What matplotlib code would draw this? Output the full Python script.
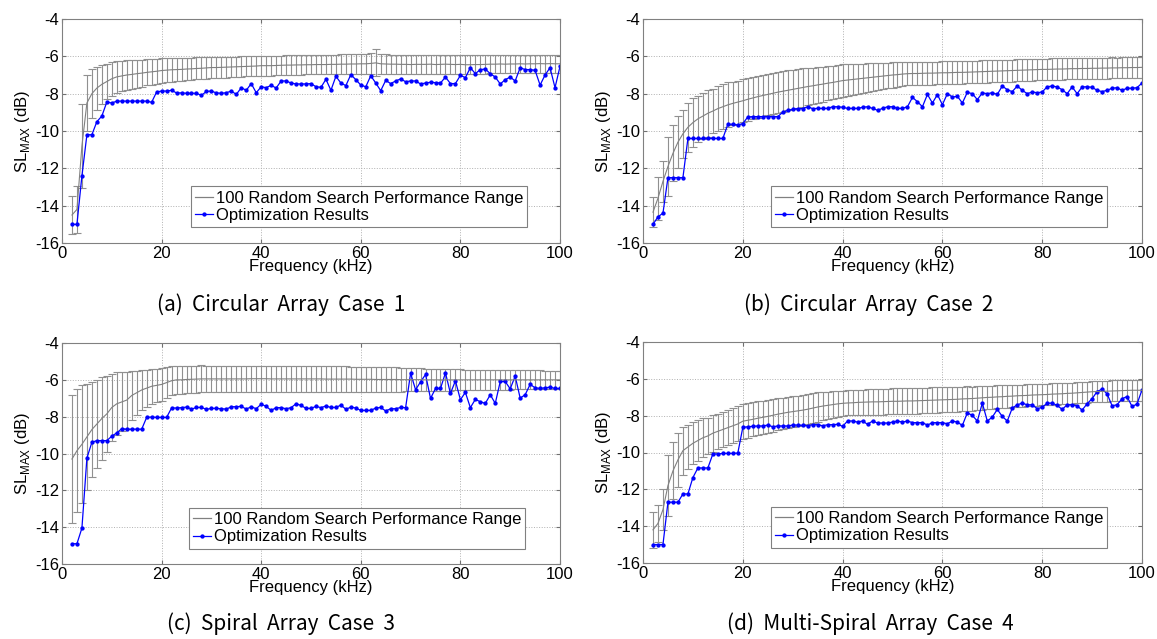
import numpy as np
import matplotlib
matplotlib.use("Agg")
import matplotlib.pyplot as plt
from matplotlib.lines import Line2D

plt.rcParams['font.family'] = ['Liberation Sans', 'DejaVu Sans']
plt.rcParams['axes.unicode_minus'] = False
plt.rcParams['mathtext.fontset'] = 'custom'
plt.rcParams['mathtext.rm'] = 'Liberation Sans'

# frequency samples, one every kHz from 2 to 100
freq_khz = np.arange(2, 101)

# ---- (a) Circular Array Case 1 ----
opt_a = [-15.0, -15.0, -12.4, -10.2, -10.2, -9.5, -9.2, -8.45, -8.5, -8.4,
         -8.4, -8.4, -8.4, -8.4, -8.4, -8.4, -8.46, -7.91, -7.86, -7.86,
         -7.82, -7.96, -7.96, -7.98, -7.98, -7.98, -8.09, -7.88, -7.86, -7.96,
         -7.98, -7.95, -7.86, -8.04, -7.68, -7.82, -7.46, -7.95, -7.63, -7.68,
         -7.55, -7.7, -7.32, -7.32, -7.43, -7.48, -7.48, -7.48, -7.46, -7.63,
         -7.66, -7.23, -7.82, -7.07, -7.43, -7.57, -6.98, -7.25, -7.54, -7.63,
         -7.04, -7.43, -7.84, -7.29, -7.46, -7.32, -7.21, -7.36, -7.32, -7.32,
         -7.48, -7.43, -7.39, -7.41, -7.43, -7.11, -7.46, -7.46, -7.02, -7.14,
         -6.61, -6.93, -6.71, -6.68, -6.93, -7.11, -7.48, -7.25, -7.11, -7.32,
         -6.61, -6.71, -6.71, -6.75, -7.54, -7.0, -6.61, -7.68, -6.54]
mean_a = [-14.5, -14.2, -10.8, -8.5, -8.0, -7.7, -7.5, -7.35, -7.2, -7.1,
          -7.05, -7.0, -6.97, -6.93, -6.9, -6.86, -6.83, -6.8, -6.76, -6.74,
          -6.72, -6.71, -6.7, -6.68, -6.67, -6.65, -6.64, -6.62, -6.6, -6.6,
          -6.59, -6.58, -6.57, -6.56, -6.55, -6.54, -6.53, -6.52, -6.5, -6.5,
          -6.5, -6.49, -6.48, -6.47, -6.47, -6.46, -6.46, -6.45, -6.45, -6.44,
          -6.44, -6.44, -6.43, -6.43, -6.42, -6.42, -6.41, -6.41, -6.4, -6.4,
          -6.38, -6.35, -6.4, -6.41, -6.42, -6.42, -6.43, -6.43, -6.44, -6.43,
          -6.43, -6.43, -6.42, -6.44, -6.43, -6.42, -6.43, -6.44, -6.43, -6.45,
          -6.45, -6.44, -6.44, -6.43, -6.42, -6.42, -6.41, -6.42, -6.41, -6.41,
          -6.4, -6.41, -6.4, -6.4, -6.39, -6.4, -6.39, -6.4, -6.4]
std_a = [1.0, 1.25, 2.25, 1.5, 1.3, 1.15, 1.05, 0.95, 0.9, 0.85,
         0.8, 0.78, 0.76, 0.74, 0.72, 0.7, 0.68, 0.67, 0.65, 0.64,
         0.63, 0.62, 0.61, 0.6, 0.6, 0.59, 0.58, 0.58, 0.57, 0.57,
         0.56, 0.56, 0.55, 0.55, 0.55, 0.54, 0.54, 0.54, 0.53, 0.53,
         0.53, 0.53, 0.52, 0.52, 0.52, 0.52, 0.52, 0.52, 0.52, 0.52,
         0.52, 0.52, 0.52, 0.52, 0.52, 0.52, 0.52, 0.52, 0.52, 0.52,
         0.55, 0.72, 0.53, 0.52, 0.51, 0.51, 0.51, 0.51, 0.51, 0.51,
         0.5, 0.5, 0.5, 0.5, 0.5, 0.5, 0.5, 0.5, 0.5, 0.5,
         0.5, 0.5, 0.49, 0.49, 0.49, 0.49, 0.49, 0.49, 0.49, 0.49,
         0.49, 0.48, 0.48, 0.48, 0.48, 0.48, 0.48, 0.48, 0.48]

# ---- (b) Circular Array Case 2 ----
opt_b = [-15.0, -14.6, -14.4, -12.5, -12.5, -12.5, -12.5, -10.4, -10.4, -10.4,
         -10.4, -10.4, -10.4, -10.4, -10.4, -9.64, -9.64, -9.68, -9.6, -9.25,
         -9.23, -9.23, -9.23, -9.23, -9.23, -9.23, -9.0, -8.9, -8.84, -8.8,
         -8.8, -8.7, -8.8, -8.79, -8.79, -8.79, -8.7, -8.7, -8.73, -8.79,
         -8.79, -8.79, -8.73, -8.7, -8.79, -8.89, -8.79, -8.7, -8.7, -8.79,
         -8.79, -8.7, -8.2, -8.43, -8.7, -8.04, -8.5, -8.05, -8.59, -8.0,
         -8.18, -8.14, -8.5, -7.93, -8.0, -8.32, -7.96, -8.0, -7.95, -8.04,
         -7.59, -7.79, -7.89, -7.59, -7.82, -8.0, -7.91, -7.95, -7.91, -7.63,
         -7.59, -7.64, -7.79, -8.0, -7.64, -8.0, -7.64, -7.63, -7.66, -7.82,
         -7.89, -7.82, -7.71, -7.68, -7.82, -7.71, -7.71, -7.68, -7.43]
mean_b = [-14.35, -13.6, -12.7, -11.9, -11.2, -10.6, -10.15, -9.8, -9.55, -9.35,
          -9.2, -9.05, -8.93, -8.8, -8.7, -8.6, -8.52, -8.45, -8.38, -8.3,
          -8.23, -8.16, -8.1, -8.04, -7.98, -7.92, -7.87, -7.82, -7.77, -7.72,
          -7.67, -7.62, -7.58, -7.53, -7.49, -7.44, -7.4, -7.35, -7.3, -7.27,
          -7.24, -7.21, -7.18, -7.15, -7.12, -7.09, -7.06, -7.03, -7.0, -6.98,
          -6.95, -6.93, -6.92, -6.92, -6.91, -6.9, -6.9, -6.89, -6.88, -6.88,
          -6.87, -6.86, -6.86, -6.85, -6.84, -6.83, -6.82, -6.81, -6.8, -6.79,
          -6.78, -6.77, -6.76, -6.75, -6.74, -6.73, -6.72, -6.71, -6.7, -6.7,
          -6.69, -6.68, -6.68, -6.67, -6.66, -6.66, -6.65, -6.65, -6.64, -6.64,
          -6.63, -6.63, -6.62, -6.62, -6.61, -6.61, -6.6, -6.6, -6.59]
std_b = [0.8, 1.15, 1.1, 1.6, 1.5, 1.4, 1.3, 1.3, 1.3, 1.25,
         1.25, 1.25, 1.2, 1.2, 1.2, 1.2, 1.15, 1.15, 1.15, 1.14,
         1.13, 1.13, 1.12, 1.12, 1.11, 1.1, 1.1, 1.08, 1.06, 1.04,
         1.02, 1.0, 0.98, 0.96, 0.94, 0.92, 0.9, 0.88, 0.87, 0.85,
         0.83, 0.81, 0.79, 0.77, 0.75, 0.73, 0.71, 0.69, 0.67, 0.65,
         0.63, 0.62, 0.62, 0.62, 0.62, 0.61, 0.61, 0.61, 0.61, 0.61,
         0.6, 0.6, 0.6, 0.6, 0.6, 0.6, 0.6, 0.6, 0.59, 0.59,
         0.59, 0.59, 0.59, 0.59, 0.58, 0.58, 0.58, 0.58, 0.58, 0.58,
         0.58, 0.57, 0.57, 0.57, 0.57, 0.57, 0.57, 0.56, 0.56, 0.56,
         0.56, 0.56, 0.56, 0.55, 0.55, 0.55, 0.55, 0.55, 0.55]

# ---- (c) Spiral Array Case 3 ----
opt_c = [-14.9, -14.9, -14.05, -10.25, -9.39, -9.3, -9.3, -9.3, -9.06, -8.88,
         -8.65, -8.68, -8.68, -8.68, -8.68, -8.04, -8.02, -8.04, -8.04, -8.04,
         -7.53, -7.53, -7.51, -7.48, -7.59, -7.5, -7.5, -7.6, -7.55, -7.55,
         -7.57, -7.59, -7.46, -7.46, -7.44, -7.59, -7.46, -7.57, -7.32, -7.44,
         -7.66, -7.51, -7.51, -7.57, -7.51, -7.3, -7.39, -7.55, -7.55, -7.44,
         -7.51, -7.42, -7.5, -7.5, -7.37, -7.6, -7.48, -7.53, -7.66, -7.66,
         -7.66, -7.53, -7.5, -7.69, -7.57, -7.57, -7.5, -7.51, -5.64, -6.54,
         -6.11, -5.71, -7.01, -6.47, -6.47, -5.62, -6.74, -6.05, -7.08, -6.68,
         -7.51, -7.06, -7.19, -7.28, -6.81, -7.28, -6.09, -6.09, -6.49, -5.8,
         -6.99, -6.81, -6.25, -6.43, -6.47, -6.43, -6.4, -6.47, -6.47]
mean_c = [-10.3, -9.85, -9.5, -9.1, -8.7, -8.4, -8.1, -7.85, -7.5, -7.3,
          -7.2, -7.1, -6.85, -6.7, -6.55, -6.45, -6.35, -6.3, -6.25, -6.15,
          -6.05, -6.0, -6.0, -5.98, -5.97, -5.96, -5.95, -5.95, -5.95, -5.95,
          -5.95, -5.95, -5.95, -5.95, -5.95, -5.95, -5.94, -5.94, -5.94, -5.94,
          -5.95, -5.95, -5.95, -5.95, -5.95, -5.95, -5.95, -5.95, -5.95, -5.95,
          -5.95, -5.96, -5.96, -5.96, -5.96, -5.96, -5.96, -5.97, -5.97, -5.97,
          -5.97, -5.98, -5.98, -5.98, -5.98, -5.98, -5.99, -5.99, -5.99, -5.99,
          -5.99, -6.0, -6.0, -6.0, -6.0, -6.0, -6.0, -6.0, -6.0, -6.0,
          -6.0, -6.0, -6.0, -6.0, -6.0, -6.0, -6.0, -6.0, -6.0, -6.0,
          -6.0, -6.0, -6.0, -6.0, -6.0, -6.0, -6.0, -6.0, -6.0]
std_c = [3.45, 3.35, 3.2, 2.9, 2.6, 2.4, 2.25, 2.05, 1.8, 1.7,
         1.6, 1.55, 1.35, 1.2, 1.1, 1.0, 0.95, 0.9, 0.88, 0.85,
         0.8, 0.77, 0.75, 0.74, 0.73, 0.73, 0.73, 0.72, 0.72, 0.72,
         0.72, 0.72, 0.72, 0.71, 0.71, 0.71, 0.71, 0.71, 0.71, 0.71,
         0.7, 0.7, 0.7, 0.7, 0.7, 0.7, 0.7, 0.7, 0.7, 0.7,
         0.7, 0.69, 0.69, 0.69, 0.69, 0.69, 0.68, 0.68, 0.68, 0.68,
         0.68, 0.67, 0.67, 0.67, 0.66, 0.66, 0.65, 0.64, 0.63, 0.62,
         0.62, 0.61, 0.6, 0.6, 0.59, 0.58, 0.58, 0.57, 0.57, 0.56,
         0.56, 0.55, 0.55, 0.54, 0.54, 0.54, 0.53, 0.53, 0.53, 0.52,
         0.52, 0.52, 0.51, 0.51, 0.51, 0.5, 0.5, 0.5, 0.5]

# ---- (d) Multi-Spiral Array Case 4 ----
opt_d = [-15.0, -15.0, -15.0, -12.7, -12.7, -12.7, -12.25, -12.25, -11.36, -10.84,
         -10.84, -10.84, -10.08, -10.08, -10.05, -10.05, -10.05, -10.03, -8.64, -8.6,
         -8.58, -8.56, -8.56, -8.51, -8.6, -8.56, -8.56, -8.56, -8.51, -8.51,
         -8.53, -8.55, -8.49, -8.49, -8.55, -8.49, -8.49, -8.47, -8.58, -8.29,
         -8.29, -8.35, -8.29, -8.47, -8.29, -8.4, -8.4, -8.4, -8.35, -8.29,
         -8.35, -8.29, -8.38, -8.38, -8.38, -8.51, -8.38, -8.38, -8.38, -8.44,
         -8.29, -8.35, -8.53, -7.84, -7.99, -8.29, -7.32, -8.29, -8.08, -7.66,
         -8.04, -8.29, -7.59, -7.41, -7.32, -7.41, -7.41, -7.62, -7.55, -7.32,
         -7.32, -7.44, -7.66, -7.41, -7.41, -7.46, -7.7, -7.35, -7.08, -6.69,
         -6.56, -6.81, -7.46, -7.41, -7.08, -6.96, -7.5, -7.37, -6.6]
mean_d = [-14.2, -13.85, -13.1, -11.8, -11.0, -10.4, -9.9, -9.7, -9.5, -9.35,
          -9.2, -9.1, -8.95, -8.85, -8.75, -8.65, -8.55, -8.45, -8.3, -8.25,
          -8.2, -8.14, -8.09, -8.04, -7.98, -7.92, -7.87, -7.82, -7.78, -7.74,
          -7.7, -7.65, -7.59, -7.53, -7.48, -7.44, -7.4, -7.36, -7.33, -7.31,
          -7.3, -7.28, -7.27, -7.26, -7.25, -7.25, -7.24, -7.23, -7.22, -7.22,
          -7.21, -7.2, -7.2, -7.19, -7.18, -7.17, -7.16, -7.15, -7.14, -7.13,
          -7.12, -7.11, -7.09, -7.08, -7.07, -7.05, -7.03, -7.01, -7.0, -6.98,
          -6.97, -6.95, -6.94, -6.92, -6.91, -6.9, -6.88, -6.87, -6.86, -6.85,
          -6.83, -6.82, -6.81, -6.79, -6.78, -6.76, -6.74, -6.72, -6.7, -6.69,
          -6.68, -6.67, -6.66, -6.65, -6.64, -6.63, -6.62, -6.62, -6.62]
std_d = [0.96, 1.0, 1.1, 1.65, 1.55, 1.45, 1.3, 1.2, 1.15, 1.1,
         1.05, 1.0, 1.0, 0.95, 0.95, 0.95, 0.95, 0.95, 0.95, 0.94,
         0.93, 0.92, 0.91, 0.9, 0.89, 0.87, 0.85, 0.84, 0.83, 0.82,
         0.81, 0.81, 0.8, 0.79, 0.77, 0.75, 0.73, 0.71, 0.69, 0.68,
         0.68, 0.68, 0.68, 0.69, 0.69, 0.69, 0.7, 0.7, 0.7, 0.7,
         0.7, 0.7, 0.7, 0.7, 0.7, 0.69, 0.69, 0.69, 0.68, 0.68,
         0.68, 0.67, 0.67, 0.67, 0.65, 0.65, 0.64, 0.64, 0.63, 0.63,
         0.62, 0.62, 0.61, 0.61, 0.6, 0.6, 0.59, 0.59, 0.58, 0.58,
         0.58, 0.58, 0.58, 0.58, 0.57, 0.57, 0.57, 0.57, 0.57, 0.57,
         0.57, 0.57, 0.57, 0.58, 0.58, 0.58, 0.58, 0.58, 0.58]

captions = ["(a)  Circular  Array  Case  1", "(b)  Circular  Array  Case  2",
            "(c)  Spiral  Array  Case  3", "(d)  Multi-Spiral  Array  Case  4"]
panels = [(opt_a, mean_a, std_a), (opt_b, mean_b, std_b),
          (opt_c, mean_c, std_c), (opt_d, mean_d, std_d)]

W, H = 1157, 639
fig = plt.figure(figsize=(W / 100, H / 100), dpi=100)

# axes boxes in pixels: left, top, right, bottom
boxes = [(62, 19, 560, 243), (643, 19, 1142, 243),
         (62, 343, 560, 564), (643, 342, 1142, 563)]
caption_pos = [(281, 305), (869, 305), (281, 624), (870, 624)]
legend_right = [0.934, 0.93, 0.93, 0.93]

gray = '#808080'
for i, (opt, mean, std) in enumerate(panels):
    l, t, r, b = boxes[i]
    ax = fig.add_axes([l / W, (H - b) / H, (r - l) / W, (b - t) / H])
    ax.errorbar(freq_khz, mean, yerr=std, color=gray, ecolor='#909090',
                linewidth=0.8, elinewidth=0.8, capsize=2.6, capthick=0.8)
    ax.plot(freq_khz, opt, color='#0000ff', linewidth=0.9, marker='.',
            markersize=4.2)
    ax.set_xlim(0, 100)
    ax.set_ylim(-16, -4)
    ax.set_xticks([0, 20, 40, 60, 80, 100])
    ax.set_yticks([-16, -14, -12, -10, -8, -6, -4])
    ax.grid(True, linestyle=':', color='#b0b0b0', linewidth=0.7)
    ax.tick_params(direction='in', top=True, right=True, length=3,
                   labelsize=12, pad=2, color='#707070')
    for s in ax.spines.values():
        s.set_color('#808080')
        s.set_linewidth(0.8)
    ax.set_xlabel('Frequency (kHz)', fontsize=12, labelpad=-1)
    ax.set_ylabel(r'SL$_{\mathrm{MAX}}$ (dB)', fontsize=12, labelpad=2)

    handles = [Line2D([], [], color=gray, linewidth=0.9),
               Line2D([], [], color='#0000ff', linewidth=0.9, marker='.',
                      markersize=4.2)]
    leg = ax.legend(handles, ['100 Random Search Performance Range',
                              'Optimization Results'],
                    loc='lower right', bbox_to_anchor=(legend_right[i], 0.07),
                    fontsize=12, fancybox=False, framealpha=1,
                    edgecolor='#808080', borderpad=0.25, labelspacing=0.15,
                    handlelength=1.1, handletextpad=0.15, borderaxespad=0)
    leg.get_frame().set_linewidth(0.8)

    cx, cy = caption_pos[i]
    fig.text(cx / W, (H - cy) / H, captions[i], ha='center', va='center',
             fontsize=15, family=['Noto Sans CJK KR', 'DejaVu Sans'])

fig.savefig('out.png', dpi=100)
